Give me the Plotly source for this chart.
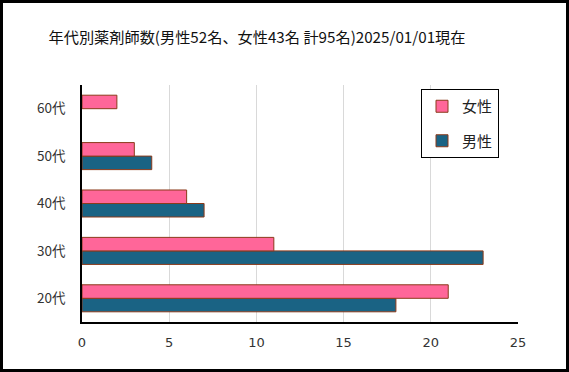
import plotly.graph_objects as go

categories = ["20代", "30代", "40代", "50代", "60代"]
male = [18, 23, 7, 4, 0]
female = [21, 11, 6, 3, 2]
x_ticks = [0, 5, 10, 15, 20, 25]

W, H = 569, 372
ml, mr, mt, mb = 82, 51, 85, 50
pw, ph = W - ml - mr, H - mt - mb

font = "Noto Sans CJK JP, Meiryo, sans-serif"
outline = "#8B3A1A"

fig = go.Figure()
fig.add_trace(go.Bar(y=categories, x=male, name="男性", orientation="h", legendgroup="m",
                     legendrank=2,
                     marker=dict(color="#1A6384",
                                 line=dict(color=outline, width=[1 if v else 0 for v in male]))))
fig.add_trace(go.Bar(y=categories, x=female, name="女性", orientation="h", legendgroup="f",
                     legendrank=1,
                     marker=dict(color="#FF6699",
                                 line=dict(color=outline, width=[1 if v else 0 for v in female]))))

fig.update_layout(
    width=W, height=H,
    margin=dict(l=ml, r=mr, t=mt, b=mb, autoexpand=False),
    paper_bgcolor="white", plot_bgcolor="white",
    font=dict(family=font, size=13, color="#333333"),
    barmode="group", bargap=0.43, bargroupgap=0,
    title=dict(text="年代別薬剤師数(男性52名、女性43名 計95名)2025/01/01現在",
               x=257 / W, xanchor="center", y=1 - 38 / H, yanchor="middle",
               font=dict(size=15.2, color="#111111")),
    xaxis=dict(range=[0, 25], tickvals=x_ticks, showgrid=True, gridcolor="#d9d9d9",
               gridwidth=1, showline=True, linecolor="black", linewidth=1.5,
               zeroline=False, ticks="", automargin=False, ticklabelstandoff=8,
               tickfont=dict(size=13, family="DejaVu Sans", color="#333333"), fixedrange=True),
    yaxis=dict(showline=True, linecolor="black", linewidth=1.5, ticks="", automargin=False,
               ticklabelstandoff=12, tickfont=dict(size=13.5), showgrid=False, fixedrange=True),
    legend=dict(x=(421 - ml) / pw, y=1 - (89 - mt) / ph, xanchor="left", yanchor="top",
                bordercolor="black", borderwidth=1, bgcolor="white",
                traceorder="grouped", tracegroupgap=12,
                font=dict(size=15, color="#222222"), itemwidth=30),
    showlegend=True,
    shapes=[dict(type="rect", xref="paper", yref="paper",
                 x0=(1.5 - ml) / pw, x1=(W - 1.5 - ml) / pw,
                 y0=-(mb - 1.5) / ph, y1=1 + (mt - 1.5) / ph,
                 line=dict(color="black", width=3), layer="above")],
)

fig.write_html("out.html", config={"displayModeBar": False},
               post_script="document.body.style.margin='0';document.body.style.overflow='hidden';")
